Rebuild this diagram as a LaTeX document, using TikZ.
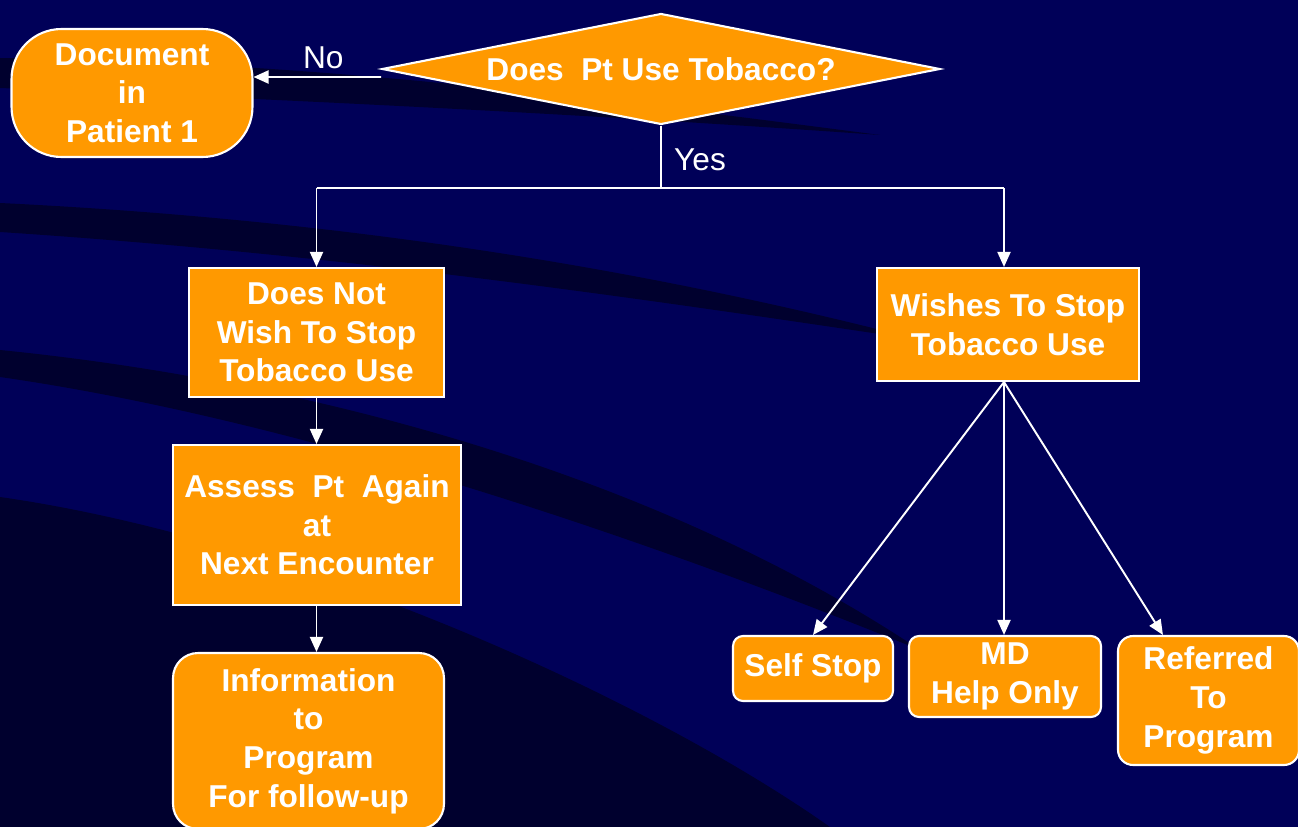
\documentclass[tikz,border=0pt]{standalone}
\usepackage{fontspec}
\setmainfont{Liberation Sans}
\usetikzlibrary{shapes.geometric, arrows.meta}
\definecolor{navy}{RGB}{0,0,88}
\definecolor{swoosh}{RGB}{0,0,46}
\definecolor{tangerine}{RGB}{255,153,0}

\begin{document}
\begin{tikzpicture}[x=0.02cm, y=-0.02cm,
	box/.style={draw=white, line width=1.2pt, fill=tangerine, text=white, font=\fontsize{18}{22}\selectfont\bfseries, align=center, inner sep=0pt},
	arr/.style={draw=white, line width=1.1pt, -{Triangle[length=0.3cm, width=0.26cm]}},
	lbl/.style={text=white, font=\fontsize{18}{20}\selectfont}]
	\fill[navy] (0,0) rectangle (1298,827);
	\useasboundingbox (0,0) rectangle (1298,827);
	\fill[swoosh] (0,58) .. controls (300,62) and (550,92) .. (880,135) .. controls (600,115) and (300,100) .. (0,88) -- cycle;
	\fill[swoosh] (0,203) .. controls (350,220) and (650,270) .. (920,340) .. controls (650,300) and (350,255) .. (0,232) -- cycle;
	\fill[swoosh] (0,350) .. controls (300,380) and (650,470) .. (920,650) .. controls (650,540) and (300,420) .. (0,377) -- cycle;
	\fill[swoosh] (0,497) .. controls (300,540) and (650,700) .. (830,827) -- (0,827) -- cycle;

	\node[box, diamond, aspect=5, minimum width=11.16cm, minimum height=2.22cm] (q) at (661,69) {Does\ \ Pt Use Tobacco?};
	\node[box, rounded corners=1cm, minimum width=4.82cm, minimum height=2.56cm] (doc) at (132,93) {Document\\in\\Patient 1};
	\node[box, minimum width=5.1cm, minimum height=2.58cm] (nowish) at (316.5,332.5) {Does Not\\Wish To Stop\\Tobacco Use};
	\node[box, minimum width=5.24cm, minimum height=2.26cm] (wish) at (1008,324.5) {Wishes To Stop\\Tobacco Use};
	\node[box, minimum width=5.76cm, minimum height=3.2cm] (assess) at (317,525) {Assess\ \ Pt\ \ Again\\at\\Next Encounter};
	\node[box, rounded corners=0.5cm, minimum width=5.42cm, minimum height=3.52cm] (info) at (308.5,741) {Information\\to\\Program\\For follow-up};
	\node[box, rounded corners=0.2cm, minimum width=3.2cm, minimum height=1.3cm] (self) at (813,668.5) {Self Stop};
	\node[box, rounded corners=0.2cm, minimum width=3.84cm, minimum height=1.62cm] (md) at (1005,676.5) {MD\\Help Only};
	\node[box, rounded corners=0.3cm, minimum width=3.62cm, minimum height=2.58cm] (ref) at (1208.5,700.5) {Referred\\To\\Program};

	\draw[arr] ([yshift=-0.16cm]q.west) -- ([yshift=0.32cm]doc.east) node[lbl, midway, above=1pt, xshift=0.12cm] (lno) {No};
	\coordinate (split) at (661,188);
	\coordinate (fork) at ([xshift=-0.08cm]wish.south);
	\draw[draw=white, line width=1.1pt] (q.south) -- (split) (nowish.north |- split) -- (fork |- split);
	\node[lbl] (lyes) at (700,160) {Yes};
	\draw[arr] (nowish.north |- split) -- (nowish.north);
	\draw[arr] (fork |- split) -- (fork |- wish.north);
	\draw[arr] (nowish.south) -- (nowish.south |- assess.north);
	\draw[arr] (assess.south -| nowish.south) -- (nowish.south |- info.north);
	\draw[arr] (fork) -- (self.north);
	\draw[arr] (fork) -- (fork |- md.north);
	\draw[arr] (fork) -- ([xshift=0.92cm]ref.north west);
\end{tikzpicture}
\end{document}
